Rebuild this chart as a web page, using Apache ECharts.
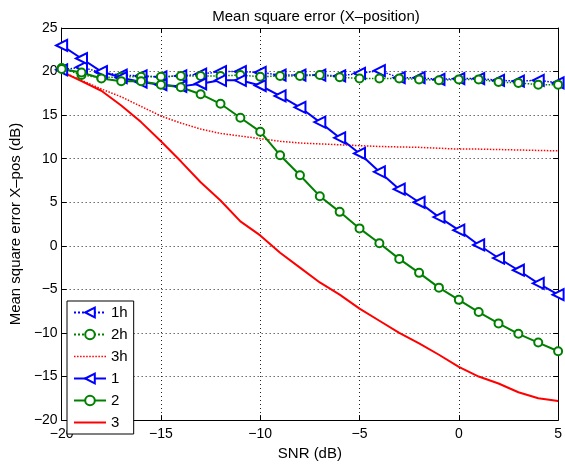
<!DOCTYPE html>
<html>
<head>
<meta charset="utf-8">
<script src="https://cdn.jsdelivr.net/npm/echarts@6/dist/echarts.min.js"></script>
<style>
html,body{margin:0;padding:0;background:#fff;}
#chart{width:565px;height:466px;}
</style>
</head>
<body>
<div id="chart"></div>
<script>
const snr = [-20,-19,-18,-17,-16,-15,-14,-13,-12,-11,-10,-9,-8,-7,-6,-5,-4,-3,-2,-1,0,1,2,3,4,5];
const s1h = [20.2,20.5,19.9,19.6,19.5,19.4,19.5,19.7,20.0,20.0,19.9,19.6,19.6,19.6,19.5,19.8,20.1,19.3,19.3,19.1,19.2,19.2,19.0,18.9,19.0,18.7];
const s2h = [20.4,19.6,19.3,19.4,19.4,19.4,19.5,19.5,19.5,19.6,19.4,19.5,19.5,19.6,19.35,19.2,19.2,19.2,19.1,19.0,19.1,19.1,18.8,18.7,18.5,18.5];
const s3h = [20.0,19.0,18.0,17.1,16.0,14.9,14.1,13.4,12.9,12.6,12.3,12.0,11.8,11.7,11.6,11.5,11.4,11.35,11.3,11.2,11.1,11.1,11.05,11.0,10.95,10.9];
const s1 = [23.0,21.5,20.0,19.3,18.8,18.5,18.3,18.6,19.0,19.0,18.4,17.2,15.9,14.2,12.4,10.6,8.5,6.5,5.0,3.3,1.8,0.1,-1.4,-2.8,-4.3,-5.6];
const s2 = [20.3,19.9,19.2,18.9,18.9,18.5,18.2,17.4,16.3,14.7,13.1,10.4,8.1,5.7,3.9,2.0,0.3,-1.5,-3.1,-4.8,-6.2,-7.6,-8.9,-10.1,-11.1,-12.1];
const s3 = [20.0,18.9,17.8,16.1,14.2,12.0,9.7,7.3,5.2,2.8,1.2,-0.8,-2.5,-4.2,-5.6,-7.2,-8.6,-10.0,-11.2,-12.5,-13.9,-15.0,-15.8,-16.8,-17.5,-17.8];
const seriesNames = ['1h','2h','3h','1','2','3'];
const xTicks = {min:-20, max:5, interval:5};
const yTicks = {min:-20, max:25, interval:5};

const pair = arr => snr.map((x,i)=>[x,arr[i]]);
const FONT = 'Liberation Sans, Arial, sans-serif';
const fmt = v => (v < 0 ? '\u2212' + Math.abs(v) : String(v));

// legend icons for marker-less series
let dotPath = 'path://';
for (let i = 0; i < 11; i++) dotPath += 'M' + (i*3) + ',0h1.5v1.5h-1.5z';
const solidPath = 'path://M0,0h32v2h-32z';

const chart = echarts.init(document.getElementById('chart'), null, {renderer:'canvas'});
const tri = {symbol:'emptyTriangle', symbolRotate:90, symbolSize:11};
const circ = {symbol:'emptyCircle', symbolSize:8};

function mk(name, data, color, dotted, sym){
  const s = {
    name, type:'line', data: pair(data), xAxisIndex:0, yAxisIndex:0,
    smooth:false, animation:false,
    lineStyle:{color, width: dotted ? 1.5 : 2, type: dotted ? 'dotted' : 'solid'},
    itemStyle:{color, borderColor: color, borderWidth: 1.8},
    symbol:'none', showSymbol:false
  };
  if (sym) { Object.assign(s, sym); s.showSymbol = true; }
  return s;
}

const baseAxis = {
  axisLine:{show:true, onZero:false, lineStyle:{color:'#000', width:1}},
  axisTick:{show:true, inside:true, length:5, lineStyle:{color:'#000'}},
  splitLine:{show:false}
};

chart.setOption({
  backgroundColor:'#fff',
  animation:false,
  title:{text:'Mean square error (X\u2013position)', left:311, top:4, textAlign:'center',
    textStyle:{fontFamily:FONT, fontSize:15, fontWeight:'normal', color:'#000'}},
  grid:{left:61, right:4, top:28, bottom:42, show:false},
  legend:{
    orient:'vertical', left:67, top:301,
    data: [
      {name:seriesNames[0]},
      {name:seriesNames[1]},
      {name:seriesNames[2], icon:dotPath, itemStyle:{borderWidth:0, color:'#ff0000'}},
      {name:seriesNames[3]},
      {name:seriesNames[4]},
      {name:seriesNames[5], icon:solidPath, itemStyle:{borderWidth:0, color:'#ff0000'}}
    ],
    backgroundColor:'#fff', borderColor:'#000', borderWidth:1,
    padding:[4,6,4,6], itemWidth:32, itemHeight:12, itemGap:7,
    textStyle:{fontFamily:FONT, fontSize:15, color:'#000'}
  },
  xAxis:[
    Object.assign({}, baseAxis, {type:'value', min:xTicks.min, max:xTicks.max, interval:xTicks.interval, position:'bottom',
      name:'SNR (dB)', nameLocation:'middle', nameGap:21,
      nameTextStyle:{fontFamily:FONT, fontSize:15, color:'#000', verticalAlign:'top'},
      axisLabel:{fontFamily:FONT, fontSize:14, color:'#000', margin:7, formatter:fmt},
      splitLine:{show:true, lineStyle:{color:'#222', type:[1,3], width:1}}}),
    Object.assign({}, baseAxis, {type:'value', min:xTicks.min, max:xTicks.max, interval:xTicks.interval, position:'top',
      axisLabel:{show:false}})
  ],
  yAxis:[
    Object.assign({}, baseAxis, {type:'value', min:yTicks.min, max:yTicks.max, interval:yTicks.interval, position:'left',
      name:'Mean square error X\u2013pos (dB)', nameLocation:'middle', nameGap:36,
      nameTextStyle:{fontFamily:FONT, fontSize:15, color:'#000'},
      axisLabel:{fontFamily:FONT, fontSize:14, color:'#000', margin:4, formatter:fmt},
      splitLine:{show:true, lineStyle:{color:'#222', type:[1,3], width:1}}}),
    Object.assign({}, baseAxis, {type:'value', min:yTicks.min, max:yTicks.max, interval:yTicks.interval, position:'right',
      axisLabel:{show:false}})
  ],
  series:[
    mk(seriesNames[0], s1h, '#0000ff', true, tri),
    mk(seriesNames[1], s2h, '#008000', true, circ),
    mk(seriesNames[2], s3h, '#ff0000', true, null),
    mk(seriesNames[3], s1, '#0000ff', false, tri),
    mk(seriesNames[4], s2, '#008000', false, circ),
    mk(seriesNames[5], s3, '#ff0000', false, null)
  ]
});
</script>
</body>
</html>
